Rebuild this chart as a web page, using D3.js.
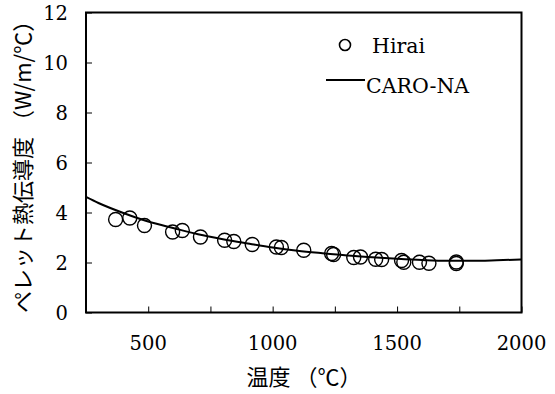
<!DOCTYPE html>
<html>
<head>
<meta charset="utf-8">
<script src="https://cdnjs.cloudflare.com/ajax/libs/d3/7.8.5/d3.min.js"></script>
<style>
  html, body { margin: 0; padding: 0; background: #fff; }
  svg { display: block; }
  .num { font-family: "DejaVu Serif", serif; font-size: 19.5px; }
  .leg { font-family: "DejaVu Serif", serif; font-size: 20.5px; }
  .jp { font-family: "Noto Sans CJK JP", sans-serif; font-size: 22px; }
</style>
</head>
<body>
<svg id="chart" width="555" height="394"></svg>
<script>
// Measured pellet thermal conductivity (Hirai)
const hiraiTemp = [369, 426, 485, 598, 637, 710, 807, 844, 918, 1015, 1035, 1125, 1237, 1245, 1326, 1353, 1414, 1438, 1518, 1527, 1590, 1628, 1738, 1738];
const hiraiK    = [3.72, 3.78, 3.48, 3.22, 3.28, 3.02, 2.89, 2.84, 2.72, 2.62, 2.60, 2.49, 2.36, 2.32, 2.20, 2.22, 2.13, 2.12, 2.08, 2.01, 2.01, 1.97, 2.02, 1.96];

// CARO-NA model curve
const caroTemp = [250, 300, 400, 500, 600, 700, 800, 900, 1000, 1100, 1200, 1300, 1400, 1500, 1600, 1700, 1800, 1900, 2000];
const caroK    = [4.62, 4.38, 3.98, 3.64, 3.38, 3.13, 2.93, 2.76, 2.60, 2.47, 2.37, 2.28, 2.21, 2.15, 2.10, 2.07, 2.07, 2.09, 2.12];

const xTicks = [500, 750, 1000, 1250, 1500, 1750, 2000];
const xTickLabels = [500, 1000, 1500, 2000];
const yTicks = [0, 2, 4, 6, 8, 10, 12];

const svg = d3.select("#chart");
const L = 86, R = 521.5, T = 12.5, B = 312.5;

const x = d3.scaleLinear().domain([250, 2000]).range([L, R]);
const y = d3.scaleLinear().domain([0, 12]).range([B, T]);

const plot = svg.append("g");

// clip so the curve stays inside the frame
svg.append("defs").append("clipPath").attr("id", "clip")
  .append("rect").attr("x", L).attr("y", T).attr("width", R - L).attr("height", B - T);

// model curve
const curve = caroTemp.map((t, i) => [t, caroK[i]]);
plot.append("path")
  .datum(curve)
  .attr("clip-path", "url(#clip)")
  .attr("fill", "none")
  .attr("stroke", "#000")
  .attr("stroke-width", 2)
  .attr("d", d3.line().x(d => x(d[0])).y(d => y(d[1])).curve(d3.curveMonotoneX));

// measured points
plot.selectAll("circle.pt")
  .data(hiraiTemp.map((t, i) => [t, hiraiK[i]]))
  .enter().append("circle")
  .attr("class", "pt")
  .attr("cx", d => x(d[0]))
  .attr("cy", d => y(d[1]))
  .attr("r", 7)
  .attr("fill", "none")
  .attr("stroke", "#000")
  .attr("stroke-width", 1.4);

// axes with inward ticks
const xAxis = d3.axisBottom(x).tickValues(xTicks).tickSizeInner(-6).tickSizeOuter(0).tickFormat("");
const yAxis = d3.axisLeft(y).tickValues(yTicks).tickSizeInner(-6).tickSizeOuter(0).tickFormat("");
svg.append("g").attr("transform", `translate(0,${B})`).call(xAxis)
  .call(g => g.selectAll("line").attr("stroke", "#000").attr("stroke-width", 1));
svg.append("g").attr("transform", `translate(${L},0)`).call(yAxis)
  .call(g => g.selectAll("line").attr("stroke", "#000").attr("stroke-width", 1));
svg.selectAll(".domain").remove();

// frame
svg.append("rect")
  .attr("x", L).attr("y", T).attr("width", R - L).attr("height", B - T)
  .attr("fill", "none").attr("stroke", "#000").attr("stroke-width", 2);

// tick labels
svg.append("g").selectAll("text")
  .data(xTickLabels).enter().append("text")
  .attr("class", "num")
  .attr("x", d => x(d)).attr("y", 350)
  .attr("text-anchor", "middle")
  .text(d => d);

svg.append("g").selectAll("text")
  .data(yTicks).enter().append("text")
  .attr("class", "num")
  .attr("x", 68).attr("y", d => y(d) + 7.5)
  .attr("text-anchor", "end")
  .text(d => d);

// axis titles
svg.append("text")
  .attr("class", "jp")
  .attr("x", 246.5).attr("y", 384.5)
  .text("温度 （℃）");

svg.append("text")
  .attr("class", "jp")
  .attr("transform", "translate(31,313) rotate(-90)")
  .text("ペレット熱伝導度 （W/m/℃）");

// legend
svg.append("circle").attr("cx", 345).attr("cy", 45).attr("r", 5.5)
  .attr("fill", "none").attr("stroke", "#000").attr("stroke-width", 1.6);
svg.append("text").attr("class", "leg").attr("x", 372).attr("y", 53).text("Hirai");
svg.append("line").attr("x1", 326).attr("x2", 365).attr("y1", 80).attr("y2", 80)
  .attr("stroke", "#000").attr("stroke-width", 2);
svg.append("text").attr("class", "leg").attr("x", 366).attr("y", 93).text("CARO-NA");
</script>
</body>
</html>
